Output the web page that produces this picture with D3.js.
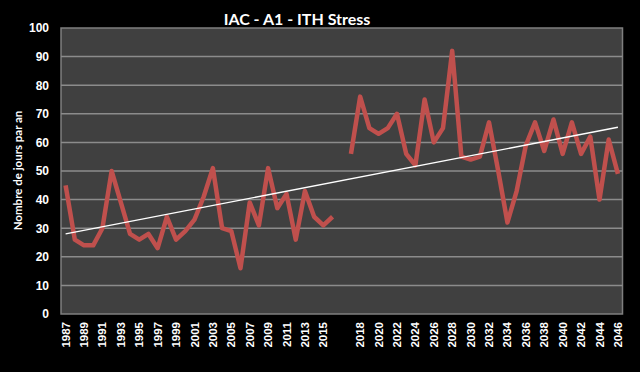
<!DOCTYPE html>
<html>
<head>
<meta charset="utf-8">
<script src="https://cdn.jsdelivr.net/npm/d3@7"></script>
<style>
  body { margin: 0; background: #000; }
  svg { display: block; font-family: Lato, "Open Sans", sans-serif; }
  .tick text { fill: #fff; font-weight: bold; }
</style>
</head>
<body>
<svg id="chart" width="640" height="372"></svg>
<script>
// years on the category axis; "" is the blank slot between the two periods
const years = [
  "1987","1988","1989","1990","1991","1992","1993","1994","1995","1996",
  "1997","1998","1999","2000","2001","2002","2003","2004","2005","2006",
  "2007","2008","2009","2010","2011","2012","2013","2014","2015","2016",
  "",
  "2017","2018","2019","2020","2021","2022","2023","2024","2025","2026",
  "2027","2028","2029","2030","2031","2032","2033","2034","2035","2036",
  "2037","2038","2039","2040","2041","2042","2043","2044","2045","2046"
];
// number of stress days per year (null = gap)
const stressDays = [
  45, 26, 24, 24, 30, 50, 39, 28, 26, 28,
  23, 34, 26, 29, 33, 41, 51, 30, 29, 16,
  39, 31, 51, 37, 42, 26, 43, 34, 31, 34,
  null,
  56, 76, 65, 63, 65, 70, 56, 52, 75, 60,
  65, 92, 55, 54, 55, 67, 50, 32, 43, 59,
  67, 57, 68, 56, 67, 56, 62, 40, 61, 49
];
// trend line end values (first and last category)
const trendEnds = [28, 65.3];
const yTicks = [0, 10, 20, 30, 40, 50, 60, 70, 80, 90, 100];

const svg = d3.select("#chart");
const plotLeft = 61, plotRight = 622.5, plotTop = 28, plotBottom = 314;

const x = d3.scaleBand().domain(d3.range(years.length)).range([plotLeft, plotRight]);
const y = d3.scaleLinear().domain([0, 100]).range([plotBottom, plotTop]);
const cx = i => x(i) + x.bandwidth() / 2;

// plot area
svg.append("rect")
    .attr("x", plotLeft).attr("y", plotTop)
    .attr("width", plotRight - plotLeft).attr("height", plotBottom - plotTop)
    .attr("fill", "#404040")
    .attr("stroke", "#7f7f7f")
    .attr("stroke-width", 1.5);

// gridlines
svg.append("g").selectAll("line")
    .data(yTicks.slice(1, -1))
    .enter().append("line")
    .attr("x1", plotLeft).attr("x2", plotRight)
    .attr("y1", d => y(d)).attr("y2", d => y(d))
    .attr("stroke", "#8c8c8c")
    .attr("stroke-width", 1.5);

// y axis
const yAxis = svg.append("g")
    .attr("transform", `translate(${plotLeft},0)`)
    .call(d3.axisLeft(y).tickValues(yTicks).tickSize(0).tickPadding(12));
yAxis.select(".domain").remove();
yAxis.selectAll("text").style("font-size", "12px");

// x axis, every second category labelled
const xAxis = svg.append("g")
    .attr("transform", `translate(0,${plotBottom})`)
    .call(d3.axisBottom(x)
        .tickValues(d3.range(0, years.length, 2))
        .tickFormat(i => years[i])
        .tickSize(0));
xAxis.select(".domain").remove();
xAxis.selectAll("text")
    .style("font-size", "11.5px")
    .attr("text-anchor", "end")
    .attr("transform", "rotate(-90)")
    .attr("x", -8)
    .attr("y", 0)
    .attr("dy", "0.35em");

// data line
const line = d3.line()
    .defined(d => d !== null)
    .x((d, i) => cx(i))
    .y(d => y(d));

svg.append("path")
    .datum(stressDays)
    .attr("fill", "none")
    .attr("stroke", "#c0504d")
    .attr("stroke-width", 4.5)
    .attr("stroke-linejoin", "round")
    .attr("d", line);

// trend line
svg.append("line")
    .attr("x1", cx(0)).attr("y1", y(trendEnds[0]))
    .attr("x2", cx(years.length - 1)).attr("y2", y(trendEnds[1]))
    .attr("stroke", "#fff")
    .attr("stroke-width", 1.3);

// title
svg.append("text")
    .attr("x", 297).attr("y", 25)
    .attr("text-anchor", "middle")
    .attr("fill", "#fff")
    .style("font-size", "16px")
    .style("font-weight", "bold")
    .text("IAC - A1 - ITH Stress");

// y axis title
svg.append("text")
    .attr("transform", `translate(22,${(108 + 233) / 2}) rotate(-90)`)
    .attr("text-anchor", "middle")
    .attr("fill", "#fff")
    .style("font-size", "11.5px")
    .style("font-weight", "bold")
    .text("Nombre de jours par an");
</script>
</body>
</html>
